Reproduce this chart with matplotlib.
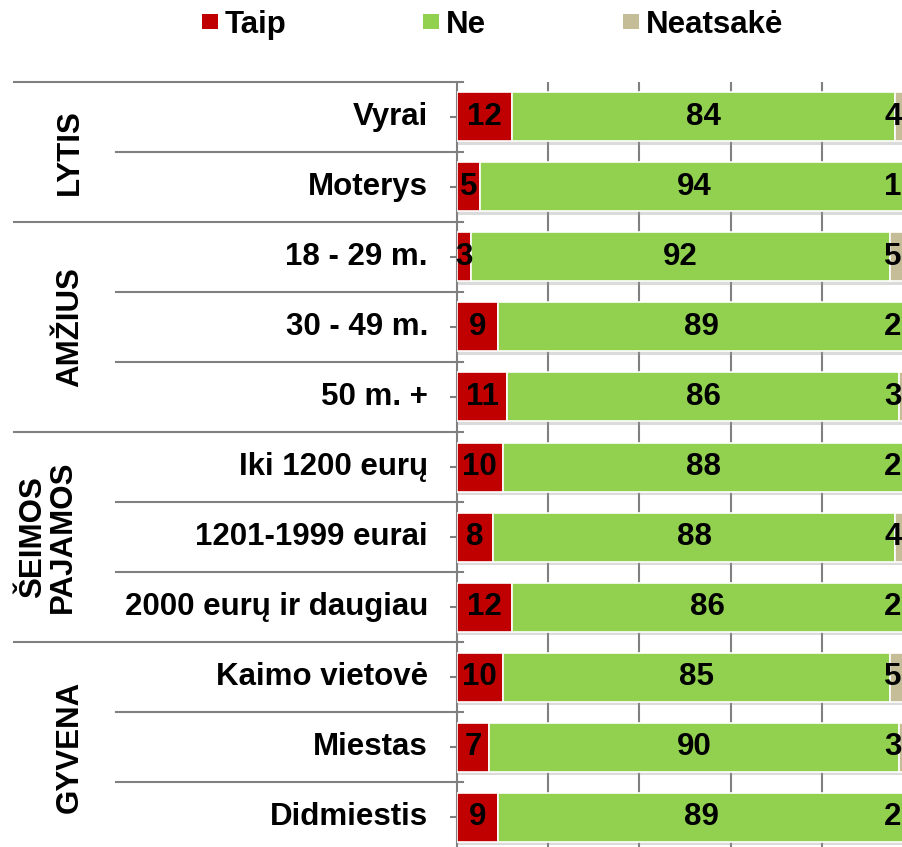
import matplotlib
matplotlib.use("Agg")
import matplotlib.pyplot as plt
from matplotlib.patches import Patch
from matplotlib import patheffects as pe

# Data
categories = ["Vyrai", "Moterys", "18 - 29 m.", "30 - 49 m.", "50 m. +",
              "Iki 1200 eurų", "1201-1999 eurai", "2000 eurų ir daugiau",
              "Kaimo vietovė", "Miestas", "Didmiestis"]
taip = [12, 5, 3, 9, 11, 10, 8, 12, 10, 7, 9]
ne = [84, 94, 92, 89, 86, 88, 88, 86, 85, 90, 89]
neatsake = [4, 1, 5, 2, 3, 2, 4, 2, 5, 3, 2]
series_names = ["Taip", "Ne", "Neatsakė"]

groups = ["LYTIS", "AMŽIUS", "ŠEIMOS\nPAJAMOS", "GYVENA"]
group_sizes = [2, 3, 3, 3]

colors = ["#C00000", "#92D050", "#C4BD97"]
grey = "#808080"

plt.rcParams['font.family'] = ['Liberation Sans', 'DejaVu Sans']
plt.rcParams['font.weight'] = 'bold'

W, H = 903, 847
fig = plt.figure(figsize=(W / 100, H / 100), dpi=100)

# bar axes (right edge runs past the picture like in the original)
x0, x1, ytop, ybot = 457, 913, 82, 852
ax = fig.add_axes([x0 / W, 1 - ybot / H, (x1 - x0) / W, (ybot - ytop) / H])

n = len(categories)
ypos = list(range(n))
left = [0] * n
shadow = [pe.SimplePatchShadow(offset=(0, -2.5), shadow_rgbFace="#999999", alpha=0.35), pe.Normal()]
for vals, c in zip([taip, ne, neatsake], colors):
    bars = ax.barh(ypos, vals, left=left, height=0.7, color=c, edgecolor="white",
                   linewidth=1.2, zorder=3)
    for b in bars:
        b.set_path_effects(shadow)
    for y, v, l in zip(ypos, vals, left):
        # labels near the right border are kept inside the chart area (as Excel does)
        xl = min(l + v / 2, 95.6)
        ax.text(xl, y, str(v), ha="center", va="center", fontsize=22.5,
                fontweight="bold", zorder=5)
    left = [l + v for l, v in zip(left, vals)]

ax.set_xlim(0, 100)
ax.set_ylim(n - 0.5, -0.5)
ax.set_xticks([20, 40, 60, 80, 100])
ax.xaxis.grid(True, color=grey, linewidth=1.5, zorder=0)
ax.set_axisbelow(True)
ax.tick_params(axis="x", length=0, labelbottom=False)
ax.set_yticks(ypos)
ax.tick_params(axis="y", length=5, width=1.5, color=grey, labelleft=False)
for s in ["top", "right", "bottom"]:
    ax.spines[s].set_visible(False)
ax.spines["left"].set_color(grey)
ax.spines["left"].set_linewidth(1.5)

# table lines and labels on the left
tr = ax.get_yaxis_transform()
px = 1 / (x1 - x0)
bounds = [-0.5]
for g in group_sizes:
    bounds.append(bounds[-1] + g)
group_bounds = set(bounds)
for b in [k - 0.5 for k in range(n + 1)]:
    start = (14 - x0) * px if b in group_bounds else (116 - x0) * px
    ax.plot([start, 6 * px], [b, b], color=grey, linewidth=1.5, transform=tr,
            clip_on=False, zorder=4)

for y, lab in zip(ypos, categories):
    ax.text((428 - x0) * px, y, lab, transform=tr, ha="right", va="center",
            fontsize=22.5, fontweight="bold")

for g, lo, hi in zip(groups, bounds[:-1], bounds[1:]):
    xc = 48 if "\n" in g else 70
    ax.text((xc - x0) * px, (lo + hi) / 2, g, transform=tr, rotation=90,
            ha="center", va="center", fontsize=22.5, fontweight="bold",
            linespacing=1.0, multialignment="center")

# legend
handles = [Patch(facecolor=c, edgecolor="none") for c in colors]
fig.legend(handles, series_names, loc="upper left", bbox_to_anchor=(202 / W, 1 - 10 / H),
           ncol=3, frameon=False, handlelength=0.51, handleheight=0.36,
           handletextpad=0.2, columnspacing=4.4, borderaxespad=0, borderpad=0,
           prop={"weight": "bold", "size": 22.5})

fig.savefig("out.png", dpi=100)
